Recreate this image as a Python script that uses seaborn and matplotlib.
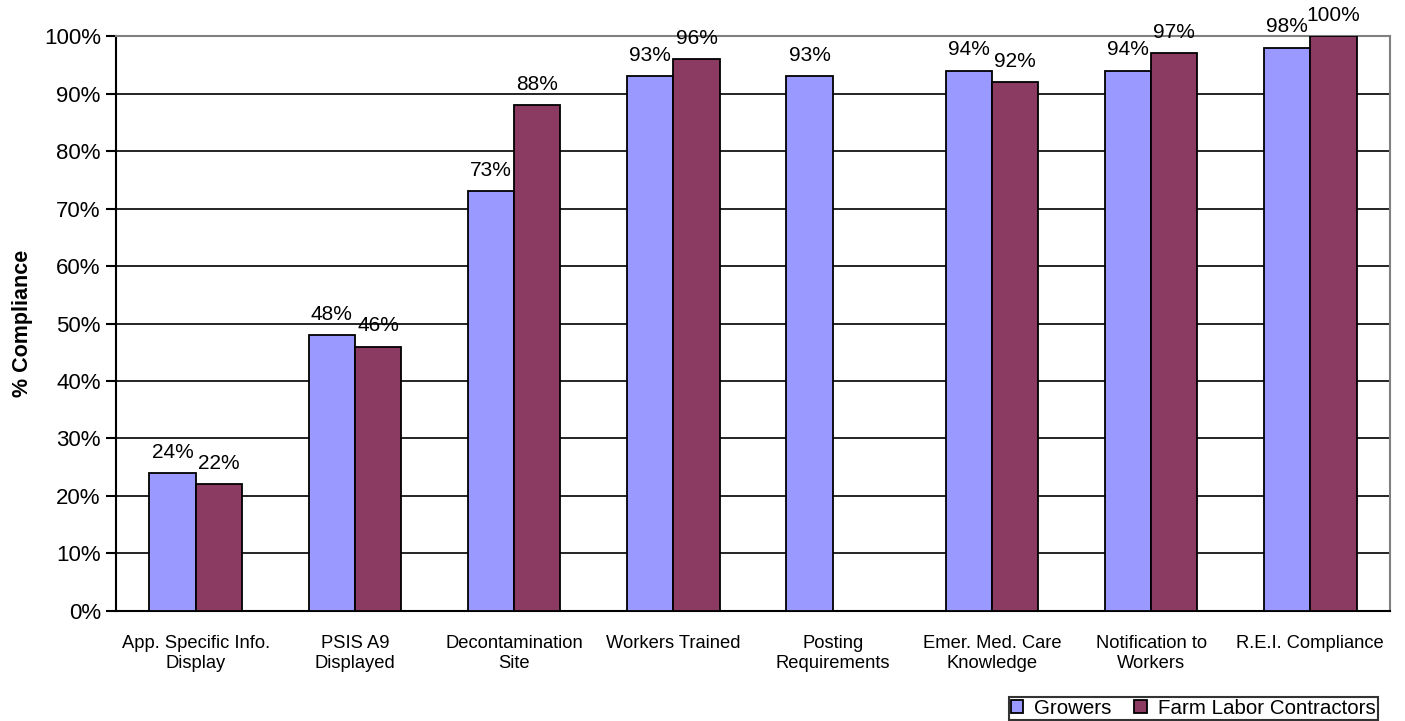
import numpy as np
import pandas as pd
import matplotlib
matplotlib.use("Agg")
import matplotlib.pyplot as plt
import seaborn as sns

categories = [
    "App. Specific Info.\nDisplay",
    "PSIS A9\nDisplayed",
    "Decontamination\nSite",
    "Workers Trained",
    "Posting\nRequirements",
    "Emer. Med. Care\nKnowledge",
    "Notification to\nWorkers",
    "R.E.I. Compliance",
]
growers = [24, 48, 73, 93, 93, 94, 94, 98]
contractors = [22, 46, 88, 96, np.nan, 92, 97, 100]
series_names = ["Growers", "Farm Labor Contractors"]
colors = ["#9999FF", "#8B3A62"]
y_ticks = list(range(0, 101, 10))

df = pd.DataFrame({
    "category": categories * 2,
    "value": growers + contractors,
    "series": [series_names[0]] * len(categories) + [series_names[1]] * len(categories),
})

sns.set_style("white")
plt.rcParams["font.family"] = ["Liberation Sans", "DejaVu Sans"]
plt.rcParams["text.color"] = "black"
plt.rcParams["axes.labelcolor"] = "black"
plt.rcParams["xtick.color"] = "black"
plt.rcParams["ytick.color"] = "black"

fig = plt.figure(figsize=(14.05, 7.21), dpi=100)
ax = fig.add_axes([0.0826, 0.1526, 0.9067, 0.7974])

sns.barplot(
    data=df, x="category", y="value", hue="series", order=categories,
    hue_order=series_names, palette=colors, width=0.58, gap=0,
    edgecolor="black", linewidth=1.3, saturation=1, ax=ax, legend=True,
    zorder=3,
)

ax.set_xlim(-0.5, len(categories) - 0.5)
ax.set_ylim(0, 100)
ax.set_yticks(y_ticks)
ax.set_yticklabels([f"{t}%" for t in y_ticks], fontsize=16)
ax.yaxis.grid(True, color="black", linewidth=1.2, zorder=0)
ax.set_axisbelow(True)

# category labels centered, tick marks at category boundaries
ax.set_xticks(range(len(categories)))
ax.set_xticklabels(categories, fontsize=13.2, linespacing=1.25)
ax.tick_params(axis="x", length=0, pad=17)
ax.set_xticks(np.arange(-0.5, len(categories) + 0.5, 1), minor=True)
ax.tick_params(axis="x", which="minor", length=7, width=1.5, color="black", direction="out")
ax.tick_params(axis="y", length=7, width=1.5, color="black", direction="out", left=True, pad=4)

ax.set_xlabel("")
ax.set_ylabel("% Compliance", fontsize=15.5, fontweight="bold", labelpad=8)

for side in ["left", "bottom"]:
    ax.spines[side].set_color("black")
    ax.spines[side].set_linewidth(1.5)
for side in ["top", "right"]:
    ax.spines[side].set_color("#808080")
    ax.spines[side].set_linewidth(1.5)

for cont in ax.containers:
    labels = []
    for p in cont:
        h = p.get_height()
        labels.append("" if (h is None or np.isnan(h)) else f"{h:.0f}%")
    ax.bar_label(cont, labels=labels, padding=8, fontsize=15, clip_on=False)

handles, lbls = ax.get_legend_handles_labels()
ax.legend(
    handles, lbls, loc="lower right", bbox_to_anchor=(0.9905, -0.19),
    ncol=2, frameon=True, fontsize=14.8, handlelength=0.6, handleheight=0.6,
    handletextpad=0.55, columnspacing=1.1, borderpad=0.1, borderaxespad=0,
    fancybox=False, edgecolor="black",
)
ax.get_legend().get_frame().set_linewidth(1.5)

fig.savefig("out.png", dpi=100)
